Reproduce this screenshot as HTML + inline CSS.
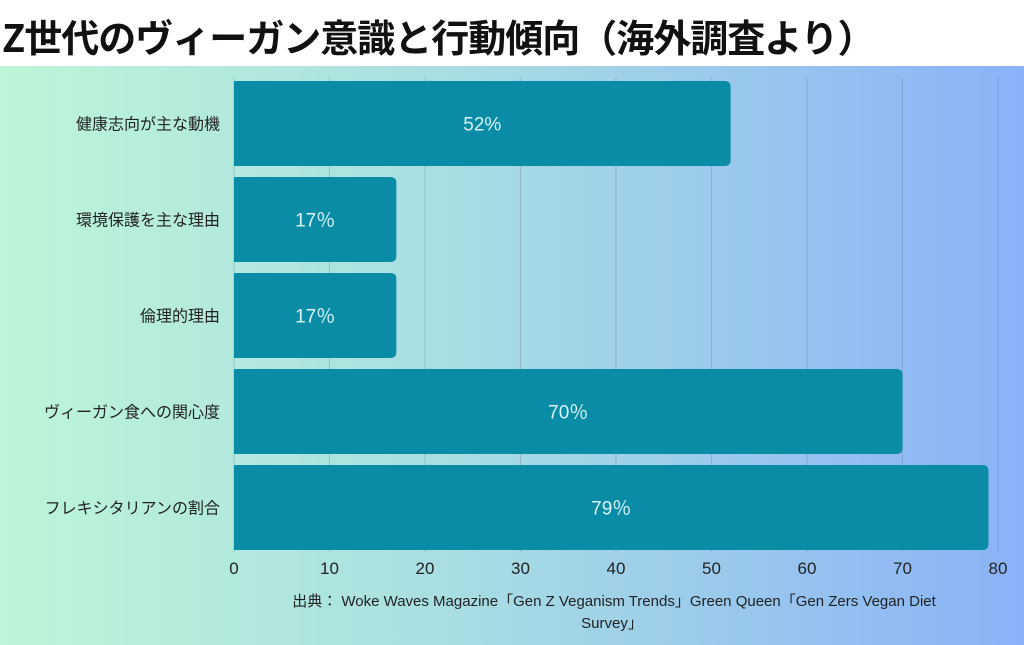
<!DOCTYPE html>
<html><head><meta charset="utf-8">
<style>
body{margin:0;width:1024px;height:645px;overflow:hidden;font-family:"Liberation Sans","Noto Sans CJK JP",sans-serif;}
#wrap{position:relative;width:1024px;height:645px;background:linear-gradient(90deg,#bdf5d8 0%,#a8dde2 45%,#8ab2f8 100%);}
#titlebar{position:absolute;left:0;top:0;width:1024px;height:66px;background:#fff;}
#title{position:absolute;left:2px;top:8px;font-size:38px;font-weight:bold;color:#111;letter-spacing:-1px;white-space:nowrap;font-family:"Noto Sans CJK JP",sans-serif;}
svg{position:absolute;left:0;top:0;}
</style></head><body>
<div id="wrap">
<div id="titlebar"><div id="title">Z世代のヴィーガン意識と行動傾向（海外調査より）</div></div>
<svg id="chart" width="1024" height="645"></svg>
</div>
<script>
const categories=["健康志向が主な動機","環境保護を主な理由","倫理的理由","ヴィーガン食への関心度","フレキシタリアンの割合"];
const values=[52,17,17,70,79];
const valueLabels=["52%","17％","17％","70％","79％"];
const ticks=[0,10,20,30,40,50,60,70,80];
const NS="http://www.w3.org/2000/svg";
const svg=document.getElementById('chart');
const x0=234,x1=998,xmax=80,top0=81,band=96,bh=85;
const xs=v=>x0+(v/xmax)*(x1-x0);
function mk(t,a){const e=document.createElementNS(NS,t);for(const k in a)e.setAttribute(k,a[k]);svg.appendChild(e);return e;}
ticks.forEach(t=>{
 const g=mk('line',{x1:xs(t),x2:xs(t),y1:78,y2:552,stroke:'rgba(100,130,160,0.35)','stroke-width':1});
 
 
 const l=mk('text',{x:xs(t),y:574,'text-anchor':'middle','font-size':17,fill:'#222'});
 l.textContent=t;
 
 
});
categories.forEach((c,i)=>{
 const y=top0+i*band,w=xs(values[i])-x0,r=6;
 const p=mk('path',{d:`M${x0},${y}H${x0+w-r}Q${x0+w},${y} ${x0+w},${y+r}V${y+bh-r}Q${x0+w},${y+bh} ${x0+w-r},${y+bh}H${x0}Z`,fill:'#0a8ba6'});
 
 
 const v=mk('text',{x:x0+w/2,y:y+bh/2+7,'text-anchor':'middle','font-size':19,fill:'#d8f4f8'});
 v.textContent=valueLabels[i];
 
 
 const cl=mk('text',{x:220,y:y+bh/2+6,'text-anchor':'end','font-size':16,fill:'#222'});
 cl.textContent=c;
 
 
});
const s1=mk('text',{x:614,y:606,'text-anchor':'middle','font-size':15,fill:'#222'});
s1.textContent="出典： Woke Waves Magazine「Gen Z Veganism Trends」Green Queen「Gen Zers Vegan Diet";


const s2=mk('text',{x:612,y:628,'text-anchor':'middle','font-size':15,fill:'#222'});
s2.textContent="Survey」";


</script>
</body></html>
